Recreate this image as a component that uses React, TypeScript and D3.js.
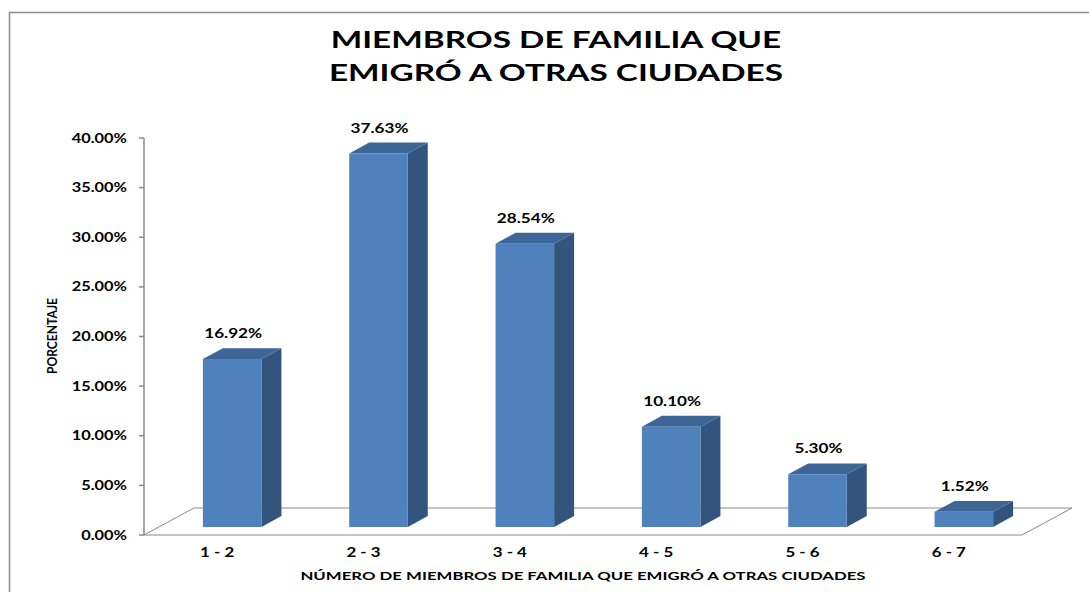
import React from "react";
import * as d3 from "d3";

const categories = ["1 - 2", "2 - 3", "3 - 4", "4 - 5", "5 - 6", "6 - 7"];
const values = [16.92, 37.63, 28.54, 10.1, 5.3, 1.52];
const yTicks = [0, 5, 10, 15, 20, 25, 30, 35, 40];
const titleLines = ["MIEMBROS DE FAMILIA QUE", "EMIGRÓ A OTRAS CIUDADES"];
const xTitle = "NÚMERO DE MIEMBROS DE FAMILIA QUE EMIGRÓ A OTRAS CIUDADES";
const yTitle = "PORCENTAJE";

const W = 1089;
const H = 592;
const X0 = 144;
const X1 = 1022;
const Y0 = 535;
const Y1 = 138;
const DEPTH = { dx: 50, dy: -27 };
const BAR_D0 = 0.3;
const BAR_D1 = 0.7;
const FONT = "Lato, 'Open Sans', sans-serif";

const FRONT = "#4f81bd";
const SIDE = "#32547d";
const TOP = "#3d6596";
const AXIS = "#8a8a8a";

function T({
  x,
  y,
  sx = 1,
  size,
  anchor = "middle",
  rotate = 0,
  children,
}: {
  x: number;
  y: number;
  sx?: number;
  size: number;
  anchor?: string;
  rotate?: number;
  children: React.ReactNode;
}) {
  return (
    <g transform={`translate(${x},${y}) rotate(${rotate}) scale(${sx},1)`}>
      <text x={0} y={0} textAnchor={anchor} fontFamily={FONT} fontWeight="bold" fontSize={size} fill="#000">
        {children}
      </text>
    </g>
  );
}

export default function App() {
  const x = d3.scaleBand<string>().domain(categories).range([X0, X1]).paddingInner(0).paddingOuter(0);
  const y = d3.scaleLinear().domain([0, 40]).range([Y0, Y1]);
  const barW = x.bandwidth() * 0.4;

  const ox0 = DEPTH.dx * BAR_D0;
  const oy0 = DEPTH.dy * BAR_D0;
  const ox1 = DEPTH.dx * BAR_D1;
  const oy1 = DEPTH.dy * BAR_D1;
  const sdx = ox1 - ox0;
  const sdy = oy1 - oy0;

  const floor = [
    [X0, Y0],
    [X1, Y0],
    [X1 + DEPTH.dx, Y0 + DEPTH.dy],
    [X0 + DEPTH.dx, Y0 + DEPTH.dy],
  ];

  return (
    <svg width={W} height={H} style={{ position: "absolute", left: 0, top: 0, background: "#fff" }}>
      <rect x={9.5} y={12.5} width={W + 20} height={H + 20} fill="#fff" stroke="#8c8c8c" strokeWidth={1.5} />
      {titleLines.map((t, i) => (
        <T key={t} x={556} y={47.5 + i * 33.5} size={23} sx={1.45}>
          {t}
        </T>
      ))}

      <path d={d3.line()(floor as [number, number][]) + "Z"} fill="none" stroke={AXIS} strokeWidth={1} />

      <line x1={X0} x2={X0} y1={Y1} y2={Y0} stroke={AXIS} strokeWidth={1.5} />
      {yTicks.map((t) => (
        <g key={t}>
          <line x1={X0 - 5} x2={X0} y1={y(t)} y2={y(t)} stroke={AXIS} strokeWidth={1.5} />
          <T x={127} y={y(t) + 4.5} size={13} sx={1.26} anchor="end">
            {t.toFixed(2)}%
          </T>
        </g>
      ))}

      {categories.map((c, i) => {
        const v = values[i];
        const cx = x(c)! + x.bandwidth() / 2;
        const fx = cx - barW / 2 + ox0;
        const fb = Y0 + oy0;
        const h = Y0 - y(v);
        const ft = fb - h;
        const front = `M${fx},${ft}h${barW}v${h}h${-barW}Z`;
        const side = `M${fx + barW},${ft}l${sdx},${sdy}v${h}l${-sdx},${-sdy}Z`;
        const top = `M${fx},${ft}l${sdx},${sdy}h${barW}l${-sdx},${-sdy}Z`;
        return (
          <g key={c}>
            <path d={side} fill={SIDE} />
            <path d={top} fill={TOP} />
            <path d={front} fill={FRONT} />
            <T x={fx + barW / 2 + 1} y={ft + sdy - 10} size={13} sx={1.32}>
              {v.toFixed(2)}%
            </T>
            <T x={cx} y={556.5} size={13} sx={1.3}>
              {c}
            </T>
          </g>
        );
      })}

      <T x={583} y={580} size={12} sx={1.4}>
        {xTitle}
      </T>
      <T x={57} y={336} size={13} sx={0.93} rotate={-90}>
        {yTitle}
      </T>
    </svg>
  );
}
